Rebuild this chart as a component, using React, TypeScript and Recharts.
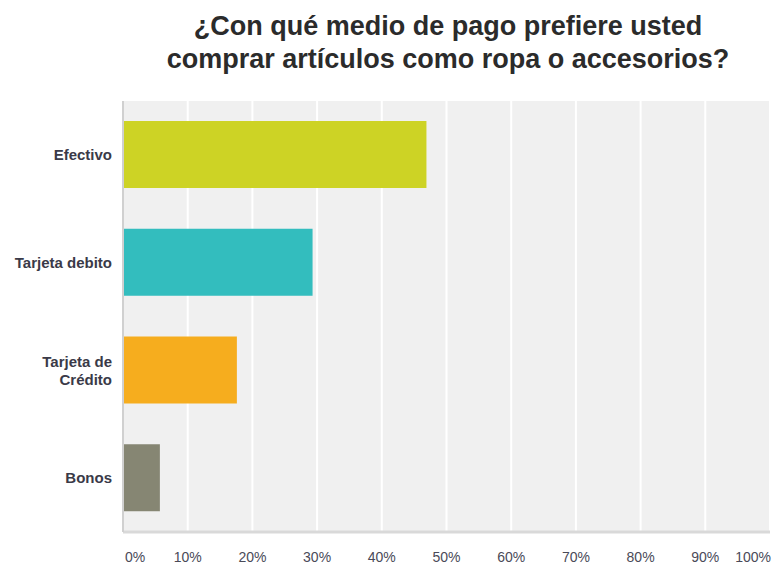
import React from "react";
import { BarChart, Bar, XAxis, YAxis, CartesianGrid, Cell } from "recharts";

const categories = ["Efectivo", "Tarjeta debito", "Tarjeta de\nCrédito", "Bonos"];
const percents = [46.9, 29.3, 17.6, 5.7];
const colors = ["#CDD325", "#33BDBE", "#F6AD1E", "#868673"];
const xTicks = [0, 10, 20, 30, 40, 50, 60, 70, 80, 90, 100];

const data = categories.map((name, i) => ({ name, value: percents[i] }));

const YTick = ({ x, y, payload }: any) => {
  const lines = String(payload.value).split("\n");
  const lh = 18;
  const start = y - ((lines.length - 1) * lh) / 2;
  return (
    <text textAnchor="end" fontSize={15} fontWeight="bold" fill="#3a3a48" fontFamily="Liberation Sans, Arial, sans-serif">
      {lines.map((l, i) => (
        <tspan key={i} x={x} y={start + i * lh} dy="0.35em">
          {l}
        </tspan>
      ))}
    </text>
  );
};

const XTick = ({ x, y, payload }: any) => {
  let anchor = "middle";
  let dx = 0;
  if (payload.value === 0) {
    anchor = "start";
    dx = 2;
  } else if (payload.value === 100) {
    anchor = "end";
    dx = 1;
  }
  return (
    <text x={x + dx} y={y} dy="0.71em" textAnchor={anchor} fontSize={14} fill="#4a4a58" fontFamily="Liberation Sans, Arial, sans-serif">
      {payload.value + "%"}
    </text>
  );
};

export default function App() {
  return (
    <div style={{ position: "absolute", left: 0, top: 0, width: 772, height: 565, background: "#fff" }}>
      <div
        style={{
          position: "absolute",
          left: 0,
          top: 10,
          width: 896,
          textAlign: "center",
          fontFamily: "Liberation Sans, Arial, sans-serif",
          fontWeight: "bold",
          fontSize: 27,
          lineHeight: "33px",
          color: "#2b2b2b",
        }}
      >
        ¿Con qué medio de pago prefiere usted
        <br />
        comprar artículos como ropa o accesorios?
      </div>
      <BarChart
        width={772}
        height={565}
        data={data}
        layout="vertical"
        margin={{ top: 101, right: 2, bottom: 0, left: 0 }}
        style={{ position: "absolute", left: 0, top: 0 }}
      >
        <CartesianGrid horizontal={false} stroke="#ffffff" strokeWidth={2} fill="#f0f0f0" fillOpacity={1} />
        <XAxis
          type="number"
          domain={[0, 100]}
          ticks={xTicks}
          height={33}
          tickLine={false}
          axisLine={{ stroke: "#d9d9d9", strokeWidth: 3 }}
          tickMargin={14}
          tick={<XTick />}
          interval={0}
        />
        <YAxis
          type="category"
          dataKey="name"
          width={123}
          tickLine={false}
          tickSize={0}
          tickMargin={11}
          axisLine={{ stroke: "#d0d0d0", strokeWidth: 2 }}
          tick={<YTick />}
          interval={0}
        />
        <Bar dataKey="value" barSize={67} isAnimationActive={false}>
          {data.map((d, i) => (
            <Cell key={d.name} fill={colors[i]} />
          ))}
        </Bar>
      </BarChart>
    </div>
  );
}
